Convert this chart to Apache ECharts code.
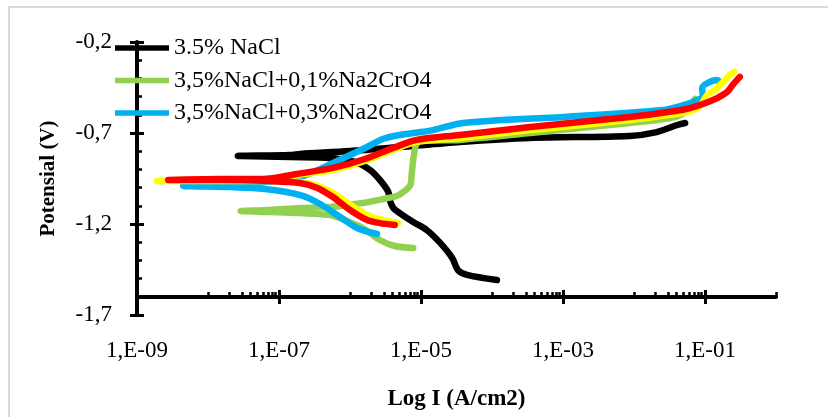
<!DOCTYPE html>
<html>
<head>
<meta charset="utf-8">
<script src="https://cdn.jsdelivr.net/npm/echarts@6/dist/echarts.min.js"></script>
<style>
html,body{margin:0;padding:0;background:#fff;}
#chart{width:828px;height:417px;}
</style>
</head>
<body>
<div id="chart"></div>
<script>
// ---- data (x = log10 of current density in A/cm2, y = potential in V) ----
const seriesNames = ['3.5% NaCl', '3,5%NaCl+0,1%Na2CrO4', '3,5%NaCl+0,3%Na2CrO4', 'Seri 4', 'Seri 5'];

const naclLogI = [-3.93,-4.35,-4.48,-4.56,-4.73,-4.92,-5.11,-5.30,-5.39,-5.44,-5.46,-5.58,-5.72,-5.93,-6.28,-6.85,-7.55,-7.58,-6.85,-6.70,-6.00,-5.30,-4.45,-3.46,-2.06,-1.68,-1.39,-1.28];
const naclE    = [-1.508,-1.480,-1.453,-1.387,-1.304,-1.233,-1.189,-1.140,-1.112,-1.068,-1.024,-0.958,-0.903,-0.859,-0.837,-0.832,-0.827,-0.826,-0.821,-0.815,-0.799,-0.777,-0.749,-0.727,-0.716,-0.695,-0.656,-0.645];

const cr01LogI = [-5.11,-5.37,-5.58,-5.82,-6.04,-6.28,-6.70,-7.13,-7.54,-7.13,-6.70,-6.28,-5.82,-5.54,-5.34,-5.23,-5.15,-5.13,-5.10,-5.07,-5.01,-4.45,-3.46,-2.06,-1.42,-1.24,-1.17,-1.14];
const cr01E    = [-1.332,-1.321,-1.288,-1.222,-1.184,-1.151,-1.140,-1.134,-1.129,-1.123,-1.112,-1.107,-1.085,-1.063,-1.046,-1.019,-0.986,-0.920,-0.821,-0.766,-0.744,-0.738,-0.700,-0.645,-0.612,-0.574,-0.530,-0.513];

const cr03LogI = [-5.62,-5.90,-6.14,-6.42,-6.70,-7.20,-7.69,-8.35,-7.69,-7.20,-6.70,-6.24,-5.76,-5.54,-5.30,-4.83,-4.41,-3.00,-1.59,-1.35,-1.14,-1.03,-1.04,-0.96,-0.83,-0.79];
const cr03E    = [-1.255,-1.222,-1.162,-1.090,-1.041,-1.008,-0.997,-0.991,-0.980,-0.969,-0.942,-0.865,-0.777,-0.733,-0.711,-0.684,-0.645,-0.612,-0.574,-0.552,-0.524,-0.497,-0.453,-0.425,-0.409,-0.420];

const s4LogI = [-5.32,-5.54,-5.75,-5.97,-6.21,-6.45,-6.70,-7.13,-7.83,-8.72,-7.83,-7.23,-6.75,-6.24,-5.79,-5.39,-5.06,-4.45,-3.46,-2.06,-1.42,-1.21,-1.07,-0.97,-0.86,-0.76,-0.65,-0.59];
const s4E    = [-1.195,-1.178,-1.151,-1.101,-1.035,-0.991,-0.969,-0.964,-0.964,-0.964,-0.958,-0.958,-0.931,-0.903,-0.854,-0.793,-0.749,-0.727,-0.684,-0.629,-0.596,-0.580,-0.552,-0.491,-0.464,-0.425,-0.381,-0.365];

const s5LogI = [-5.37,-5.58,-5.76,-6.00,-6.24,-6.46,-6.70,-7.13,-7.83,-8.56,-7.83,-7.23,-6.75,-6.24,-5.79,-5.39,-5.06,-4.45,-3.46,-2.06,-1.42,-1.21,-1.03,-0.83,-0.69,-0.61,-0.51];
const s5E    = [-1.205,-1.195,-1.178,-1.123,-1.052,-1.002,-0.975,-0.964,-0.958,-0.958,-0.953,-0.953,-0.925,-0.892,-0.843,-0.782,-0.738,-0.711,-0.667,-0.612,-0.579,-0.563,-0.541,-0.508,-0.475,-0.436,-0.392];

// axis ticks / labels
const xLabelValues = [-9, -7, -5, -3, -1];       // 1,E-09 ... 1,E-01
const xMajorTicks  = [-7, -5, -3, -1];
const xMinorDecades = [-8, -6, -4, -2, 0];
const yLabelValues = [-1.7, -1.2, -0.7, -0.2];
const yMinorTicks  = [-1.6, -1.5, -1.4, -1.3, -1.1, -1.0, -0.9, -0.8, -0.6, -0.5, -0.4, -0.3];

const colors = ['#000000', '#92D050', '#00B0F0', '#FFFF00', '#FF0000'];

// ---- build ----
const xMinorTicks = [];
xMinorDecades.forEach(function (d) {
  for (let k = 1; k <= 9; k++) {
    const v = d + Math.log10(k);
    if (v <= 0.0001) xMinorTicks.push(+v.toFixed(4));
  }
});

function pairs(xs, ys) { return xs.map(function (x, i) { return [x, ys[i]]; }); }
const allData = [pairs(naclLogI, naclE), pairs(cr01LogI, cr01E), pairs(cr03LogI, cr03E), pairs(s4LogI, s4E), pairs(s5LogI, s5E)];

const FONT = '"Liberation Serif", "Times New Roman", serif';
const X_MIN = -9, X_MAX = 0, Y_MIN = -1.7, Y_MAX = -0.2;
const X_OFFSET = -18; // x axis crosses at -1.6 V

function xLabel(v) {
  const n = Math.round(Math.abs(v));
  return '1,E' + (v < 0 ? '-' : '+') + (n < 10 ? '0' + n : '' + n);
}
function yLabel(v) { return v.toFixed(1).replace('.', ','); }

const baseX = { type: 'value', min: X_MIN, max: X_MAX, position: 'bottom', offset: X_OFFSET, splitLine: { show: false } };
const baseY = { type: 'value', min: Y_MIN, max: Y_MAX, position: 'left', splitLine: { show: false } };

const option = {
  animation: false,
  backgroundColor: '#ffffff',
  color: colors,
  grid: { left: 137, right: 52, top: 42, bottom: 102, containLabel: false },
  legend: {
    data: seriesNames.slice(0, 3),
    orient: 'vertical',
    left: 110, top: 31,
    icon: 'rect',
    itemWidth: 54, itemHeight: 5.5,
    itemGap: 8.5,
    textStyle: { fontFamily: FONT, fontSize: 24, lineHeight: 24, color: '#000' }
  },
  graphic: [{
    type: 'rect', silent: true, z: -10,
    shape: { x: 9, y: 7, width: 900, height: 500 },
    style: { fill: 'none', stroke: '#d9d9d9', lineWidth: 2 }
  }],
  xAxis: [
    Object.assign({}, baseX, {
      name: 'Log I (A/cm2)', nameLocation: 'middle', nameGap: 91,
      nameTextStyle: { fontFamily: FONT, fontSize: 23, fontWeight: 'bold', color: '#000' },
      axisLine: { show: true, onZero: false, lineStyle: { color: '#000', width: 4 } },
      axisTick: { show: true, inside: false, length: 7, customValues: xMajorTicks, lineStyle: { color: '#000', width: 3 } },
      axisLabel: { show: true, margin: 42, customValues: xLabelValues, formatter: xLabel, fontFamily: FONT, fontSize: 23, color: '#000' }
    }),
    Object.assign({}, baseX, {
      axisLine: { show: false, onZero: false },
      axisTick: { show: true, inside: true, length: 7, customValues: xMajorTicks, lineStyle: { color: '#000', width: 3 } },
      axisLabel: { show: false }
    }),
    Object.assign({}, baseX, {
      axisLine: { show: false, onZero: false },
      axisTick: { show: true, inside: true, length: 5, customValues: xMinorTicks, lineStyle: { color: '#000', width: 2.5 } },
      axisLabel: { show: false }
    })
  ],
  yAxis: [
    Object.assign({}, baseY, {
      name: 'Potensial (V)', nameLocation: 'middle', nameGap: 78,
      nameTextStyle: { fontFamily: FONT, fontSize: 21, fontWeight: 'bold', color: '#000' },
      axisLine: { show: true, onZero: false, lineStyle: { color: '#000', width: 4 } },
      axisTick: { show: true, inside: false, length: 7, customValues: yLabelValues, lineStyle: { color: '#000', width: 3 } },
      axisLabel: { show: true, margin: 25, customValues: yLabelValues, formatter: yLabel, fontFamily: FONT, fontSize: 23, color: '#000' }
    }),
    Object.assign({}, baseY, {
      axisLine: { show: false, onZero: false },
      axisTick: { show: true, inside: true, length: 7, customValues: yLabelValues, lineStyle: { color: '#000', width: 3 } },
      axisLabel: { show: false }
    }),
    Object.assign({}, baseY, {
      axisLine: { show: false, onZero: false },
      axisTick: { show: true, inside: true, length: 5, customValues: yMinorTicks, lineStyle: { color: '#000', width: 2.5 } },
      axisLabel: { show: false }
    })
  ],
  series: allData.map(function (d, i) {
    return {
      name: seriesNames[i],
      type: 'line',
      xAxisIndex: 0, yAxisIndex: 0,
      data: d,
      smooth: 0.3,
      symbol: 'none', showSymbol: false,
      z: 2 + i,
      lineStyle: { color: colors[i], width: 6.5, cap: 'round', join: 'round' },
      itemStyle: { color: colors[i] },
      emphasis: { disabled: true }
    };
  })
};

const chart = echarts.init(document.getElementById('chart'), null, { renderer: 'canvas' });
chart.setOption(option);
</script>
</body>
</html>
